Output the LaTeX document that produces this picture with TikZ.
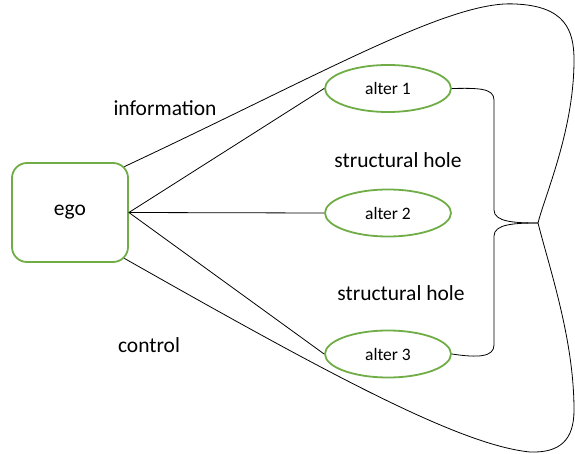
\documentclass[tikz,border=0pt]{standalone}
\usepackage{fontspec}
\setmainfont{Carlito}
\definecolor{egogreen}{RGB}{112,173,71}
\usetikzlibrary{positioning,shapes.geometric}
\tikzset{
  egobox/.style={draw=egogreen, line width=1.8pt, rounded corners=15pt, minimum width=116pt, minimum height=99pt, font=\fontsize{21.5}{25}\selectfont},
  alterbox/.style={draw=egogreen, line width=1.8pt, ellipse, minimum width=126pt, minimum height=47pt, inner sep=0pt, font=\fontsize{17.5}{21}\selectfont},
  tag/.style={font=\fontsize{21.5}{25}\selectfont},
  tie/.style={line width=0.8pt}
}

\begin{document}
\begin{tikzpicture}[x=1pt,y=-1pt]
  \useasboundingbox (0,0) rectangle (575,454);

  \node[egobox] (ego) at (70,212.5) {ego};
  \node[alterbox] (alter1) at (388,88.5) {alter 1};
  \node[alterbox] (alter2) at (388,213) {alter 2};
  \node[alterbox] (alter3) at (388,354) {alter 3};

  \node[tag] (info) at (165,108) {information};
  \node[tag] (ctrl) at (149,345) {control};
  \node[tag] (hole1) at (398,160) {structural hole};
  \node[tag] (hole2) at (401,293) {structural hole};

  \coordinate (tip) at (538,223);

  \draw[tie] (ego.east) -- (alter1.west);
  \draw[tie] (ego.east) -- (alter2.west);
  \draw[tie] (ego.east) -- (alter3.west);

  % outer hull
  \draw[tie] ([xshift=-4.5pt,yshift=-4.5pt]ego.north east) .. controls (320,75) and (450,0) .. (515,4)
    .. controls (565,6) and (574,30) .. (574,60)
    .. controls (574,130) and (545,195) .. (tip);
  \draw[tie] (tip) .. controls (550,270) and (574,340) .. (574,410)
    .. controls (574,440) and (560,453) .. (530,452)
    .. controls (460,445) and (330,375) .. ([xshift=-4.5pt,yshift=4.5pt]ego.south east);

  % brace
  \draw[tie] (alter1.east) .. controls (478,88) and (494,88) .. (494,100) -- (494,210)
    .. controls (494,222) and (515,223) .. (tip);
  \draw[tie] (tip) .. controls (515,223) and (494,224) .. (494,236) -- (494,345)
    .. controls (494,357) and (478,358) .. (alter3.east);
\end{tikzpicture}
\end{document}
